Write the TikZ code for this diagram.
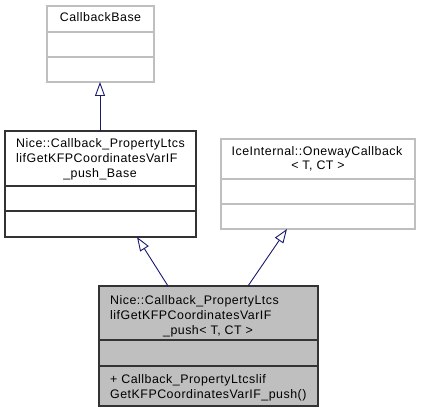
\documentclass[tikz,border=0pt]{standalone}
\usepackage{fontspec}
\setmainfont[LetterSpace=4]{Liberation Sans}
\usepackage{xcolor}
\usetikzlibrary{arrows.meta,positioning}
\definecolor{edgeblue}{HTML}{191970}
\definecolor{boxgrey}{HTML}{BFBFBF}
\tikzset{
  greybox/.style={draw=boxgrey,line width=1.2pt},
  blackbox/.style={draw=black!80,line width=1.2pt},
  label/.style={inner sep=0pt,anchor=base,font=\fontsize{12.4}{15}\selectfont},
  leftlabel/.style={label,anchor=base west},
  inherit/.style={-{Triangle[open,length=14pt,width=10pt]},edgeblue,line width=0.9pt}
}
\begin{document}
\begin{tikzpicture}[x=1pt,y=-1pt]
		\useasboundingbox (0,0) rectangle (421,412);
		% CallbackBase
		\draw[greybox] (47,6) rectangle (154,82);
		\draw[greybox] (47,32) -- (154,32);
		\draw[greybox] (47,57) -- (154,57);
		\node[label] (cbase) at (100.5,22) {CallbackBase};
		\coordinate (cbase bottom) at (100,82);
		% push_Base
		\draw[blackbox] (5,131) rectangle (196,237);
		\draw[blackbox] (5,186) -- (196,186);
		\draw[blackbox] (5,211) -- (196,211);
		\node[leftlabel] (pbase1) at (16,148) {Nice::Callback\_PropertyLtcs};
		\node[leftlabel] (pbase2) at (16,163) {lifGetKFPCoordinatesVarIF};
		\node[label] (pbase3) at (100,178) {\_push\_Base};
		\coordinate (pbase top) at (100,131);
		\coordinate (pbase bottom) at (137,237);
		% OnewayCallback
		\draw[greybox] (221,139) rectangle (415,229);
		\draw[greybox] (221,179) -- (415,179);
		\draw[greybox] (221,204) -- (415,204);
		\node[label] (oneway1) at (317,155) {IceInternal::OnewayCallback};
		\node[label] (oneway2) at (318,170) {\textless\ T, CT \textgreater};
		\coordinate (oneway bottom) at (287,229);
		% push< T, CT >
		\fill[boxgrey] (99,286) rectangle (318,406);
		\draw[blackbox] (99,286) rectangle (318,406);
		\draw[blackbox] (99,340) -- (318,340);
		\draw[blackbox] (99,366) -- (318,366);
		\node[leftlabel] (push1) at (110,304) {Nice::Callback\_PropertyLtcs};
		\node[leftlabel] (push2) at (110,319) {lifGetKFPCoordinatesVarIF};
		\node[label] (push3) at (208,334) {\_push\textless\ T, CT \textgreater};
		\node[leftlabel] (pushop1) at (110,383) {+ Callback\_PropertyLtcslif};
		\node[leftlabel] (pushop2) at (110,398) {GetKFPCoordinatesVarIF\_push()};
		\coordinate (push left) at (168,286);
		\coordinate (push right) at (248,286);
		% inheritance
		\draw[inherit] (pbase top) -- (cbase bottom);
		\draw[inherit] (push left) -- (pbase bottom);
		\draw[inherit] (push right) -- (oneway bottom);
	\end{tikzpicture}
\end{document}
